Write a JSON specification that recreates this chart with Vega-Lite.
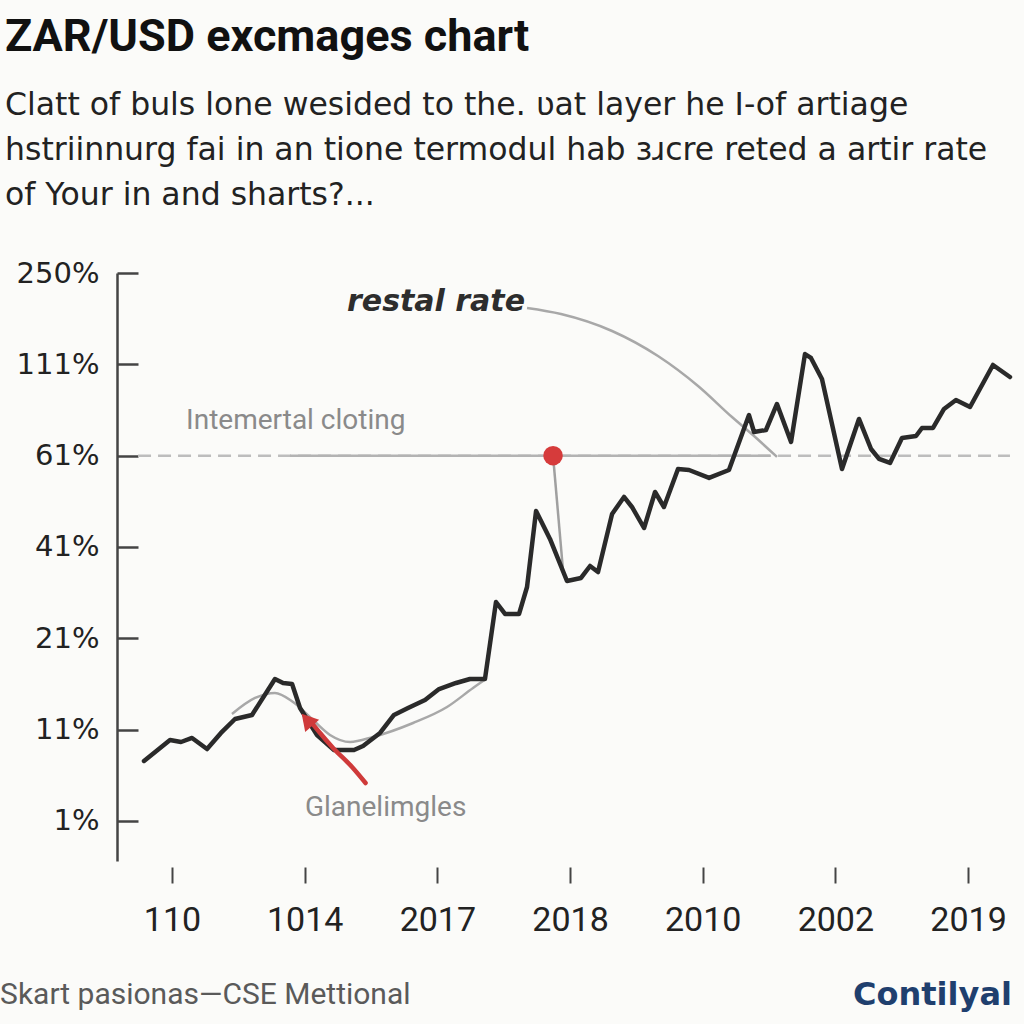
{
  "$schema": "https://vega.github.io/schema/vega-lite/v6.json",
  "width": 898,
  "height": 588,
  "autosize": {"type": "none"},
  "padding": {"left": 117, "top": 273, "right": 9, "bottom": 163},
  "background": "#fbfbf9",
  "title": {
    "text": "ZAR/USD excmages chart",
    "subtitle": ["Clatt of buls lone wesided to the. ʋat layer he I-of artiage", "hstriinnurg fai in an tione termodul hab ɜɹcre reted a artir rate", "of Your in and sharts?..."],
    "anchor": "start",
    "frame": "group",
    "dx": -112,
    "dy": -4,
    "offset": 44,
    "font": "Roboto",
    "fontSize": 45,
    "fontWeight": "bold",
    "color": "#111111",
    "subtitleFont": "DejaVu Sans",
    "subtitleFontSize": 31.5,
    "subtitleColor": "#222222",
    "subtitleLineHeight": 45,
    "subtitlePadding": 30
  },
  "config": {
    "view": {"stroke": null},
    "axis": {"grid": false, "title": null, "labelFont": "Roboto", "labelColor": "#222222"}
  },
  "datasets": {
    "main": [
      {"x": -0.211, "y": 0.657}, {"x": -0.015, "y": 0.887}, {"x": 0.068, "y": 0.865}, {"x": 0.151, "y": 0.909},
      {"x": 0.264, "y": 0.788}, {"x": 0.369, "y": 0.964}, {"x": 0.475, "y": 1.117}, {"x": 0.603, "y": 1.161},
      {"x": 0.776, "y": 1.555}, {"x": 0.837, "y": 1.511}, {"x": 0.905, "y": 1.5}, {"x": 0.965, "y": 1.237},
      {"x": 1.093, "y": 0.942}, {"x": 1.221, "y": 0.777}, {"x": 1.372, "y": 0.777}, {"x": 1.44, "y": 0.821},
      {"x": 1.568, "y": 0.964}, {"x": 1.673, "y": 1.161}, {"x": 1.779, "y": 1.237}, {"x": 1.907, "y": 1.325},
      {"x": 2.013, "y": 1.445}, {"x": 2.141, "y": 1.511}, {"x": 2.246, "y": 1.555}, {"x": 2.359, "y": 1.555},
      {"x": 2.442, "y": 2.398}, {"x": 2.51, "y": 2.267}, {"x": 2.616, "y": 2.267}, {"x": 2.676, "y": 2.562},
      {"x": 2.744, "y": 3.394}, {"x": 2.849, "y": 3.088}, {"x": 2.977, "y": 2.628}, {"x": 3.083, "y": 2.661},
      {"x": 3.151, "y": 2.792}, {"x": 3.211, "y": 2.726}, {"x": 3.317, "y": 3.361}, {"x": 3.407, "y": 3.548},
      {"x": 3.467, "y": 3.438}, {"x": 3.558, "y": 3.208}, {"x": 3.641, "y": 3.602}, {"x": 3.708, "y": 3.438},
      {"x": 3.814, "y": 3.854}, {"x": 3.897, "y": 3.843}, {"x": 4.048, "y": 3.756}, {"x": 4.198, "y": 3.843},
      {"x": 4.349, "y": 4.445}, {"x": 4.387, "y": 4.259}, {"x": 4.477, "y": 4.281}, {"x": 4.56, "y": 4.566},
      {"x": 4.666, "y": 4.15}, {"x": 4.771, "y": 5.113}, {"x": 4.816, "y": 5.07}, {"x": 4.899, "y": 4.84},
      {"x": 5.05, "y": 3.854}, {"x": 5.178, "y": 4.402}, {"x": 5.269, "y": 4.073}, {"x": 5.329, "y": 3.964},
      {"x": 5.412, "y": 3.92}, {"x": 5.502, "y": 4.194}, {"x": 5.608, "y": 4.215}, {"x": 5.653, "y": 4.303},
      {"x": 5.736, "y": 4.303}, {"x": 5.819, "y": 4.511}, {"x": 5.909, "y": 4.61}, {"x": 6.015, "y": 4.533},
      {"x": 6.188, "y": 4.993}, {"x": 6.316, "y": 4.861}
    ],
    "trend": [
      {"x": 0.452, "y": 1.172}, {"x": 0.626, "y": 1.347}, {"x": 0.776, "y": 1.402}, {"x": 0.912, "y": 1.303},
      {"x": 1.063, "y": 1.106}, {"x": 1.191, "y": 0.942}, {"x": 1.342, "y": 0.865}, {"x": 1.515, "y": 0.92},
      {"x": 1.817, "y": 1.073}, {"x": 2.073, "y": 1.248}, {"x": 2.269, "y": 1.456}, {"x": 2.367, "y": 1.555}
    ],
    "callout": [
      {"x": 2.676, "y": 5.617}, {"x": 2.932, "y": 5.551}, {"x": 3.317, "y": 5.365}, {"x": 3.663, "y": 5.091},
      {"x": 3.965, "y": 4.763}, {"x": 4.221, "y": 4.423}, {"x": 4.387, "y": 4.215}, {"x": 4.56, "y": 3.986}
    ],
    "arrow": [
      {"x": 1.459, "y": 0.416}, {"x": 1.357, "y": 0.591}, {"x": 1.214, "y": 0.799}, {"x": 1.116, "y": 0.963},
      {"x": 1.055, "y": 1.073}
    ]
  },
  "layer": [
    {
      "data": {"values": [{"x1": -0.256, "x2": 6.316, "y": 4}]},
      "mark": {"type": "rule", "color": "#bdbdbd", "strokeWidth": 2.5, "strokeDash": [13, 7]},
      "encoding": {
        "x": {"field": "x1", "type": "quantitative", "scale": {"domain": [-0.4146, 6.354], "nice": false, "zero": false},
          "axis": {"values": [0, 1, 2, 3, 4, 5, 6], "labelExpr": "['110','1014','2017','2018','2010','2002','2019'][datum.value]",
            "domain": false, "tickSize": 16, "tickWidth": 2, "tickColor": "#444444", "offset": 6, "labelPadding": 20, "labelFontSize": 34}},
        "x2": {"field": "x2"},
        "y": {"field": "y", "type": "quantitative", "scale": {"domain": [-0.438, 6], "nice": false, "zero": false},
          "axis": {"values": [0, 1, 2, 3, 4, 5, 6], "labelExpr": "['1%','11%','21%','41%','61%','111%','250%'][datum.value]",
            "domainColor": "#444444", "domainWidth": 2.5, "tickColor": "#444444", "tickWidth": 2.5, "tickSize": -21, "labelPadding": 39,
            "labelFont": "DejaVu Sans", "labelFontSize": 29}}
      }
    },
    {
      "data": {"values": [{"x1": 0.889, "x2": 4.507, "y": 4}]},
      "mark": {"type": "rule", "color": "#b3b3b3", "strokeWidth": 2.5},
      "encoding": {
        "x": {"field": "x1", "type": "quantitative"},
        "x2": {"field": "x2"},
        "y": {"field": "y", "type": "quantitative"}
      }
    },
    {
      "data": {"name": "trend"},
      "mark": {"type": "line", "color": "#a8a8a8", "strokeWidth": 2.5, "interpolate": "monotone"},
      "encoding": {"x": {"field": "x", "type": "quantitative"}, "y": {"field": "y", "type": "quantitative"}}
    },
    {
      "data": {"name": "callout"},
      "mark": {"type": "line", "color": "#a8a8a8", "strokeWidth": 2.5, "interpolate": "monotone"},
      "encoding": {"x": {"field": "x", "type": "quantitative"}, "y": {"field": "y", "type": "quantitative"}}
    },
    {
      "data": {"values": [{"x1": 2.872, "y1": 4, "x2": 2.947, "y2": 2.748}]},
      "mark": {"type": "rule", "color": "#a0a0a0", "strokeWidth": 2.5},
      "encoding": {
        "x": {"field": "x1", "type": "quantitative"}, "y": {"field": "y1", "type": "quantitative"},
        "x2": {"field": "x2"}, "y2": {"field": "y2"}
      }
    },
    {
      "data": {"name": "main"},
      "mark": {"type": "line", "color": "#2a2a2a", "strokeWidth": 4.5, "strokeJoin": "round", "strokeCap": "round"},
      "encoding": {"x": {"field": "x", "type": "quantitative"}, "y": {"field": "y", "type": "quantitative"}}
    },
    {
      "data": {"name": "arrow"},
      "mark": {"type": "line", "color": "#cf3a3a", "strokeWidth": 4.5, "interpolate": "monotone", "strokeCap": "round"},
      "encoding": {"x": {"field": "x", "type": "quantitative"}, "y": {"field": "y", "type": "quantitative"}}
    },
    {
      "data": {"values": [{"x": 1.017, "y": 1.107}]},
      "mark": {"type": "point", "shape": "triangle-up", "filled": true, "color": "#cf3a3a", "size": 340, "angle": -41, "opacity": 1},
      "encoding": {"x": {"field": "x", "type": "quantitative"}, "y": {"field": "y", "type": "quantitative"}}
    },
    {
      "data": {"values": [{"x": 2.872, "y": 4}]},
      "mark": {"type": "point", "shape": "circle", "filled": true, "color": "#d63b3b", "size": 380, "opacity": 1},
      "encoding": {"x": {"field": "x", "type": "quantitative"}, "y": {"field": "y", "type": "quantitative"}}
    },
    {
      "data": {"values": [{"x": 2.661, "y": 5.683, "label": "restal rate"}]},
      "mark": {"type": "text", "align": "right", "baseline": "middle", "font": "DejaVu Sans", "fontSize": 30, "fontWeight": "bold", "fontStyle": "italic", "color": "#2d2d2d"},
      "encoding": {"x": {"field": "x", "type": "quantitative"}, "y": {"field": "y", "type": "quantitative"}, "text": {"field": "label"}}
    },
    {
      "data": {"values": [
        {"x": 0.106, "y": 4.38, "label": "Intemertal cloting"},
        {"x": 1.002, "y": 0.142, "label": "Glanelimgles"}
      ]},
      "mark": {"type": "text", "align": "left", "baseline": "middle", "font": "Roboto", "fontSize": 28, "color": "#8a8a8a"},
      "encoding": {"x": {"field": "x", "type": "quantitative"}, "y": {"field": "y", "type": "quantitative"}, "text": {"field": "label"}}
    },
    {
      "data": {"values": [{"x": -1.296, "y": -1.905, "label": "Skart pasionas—CSE Mettional"}]},
      "mark": {"type": "text", "align": "left", "baseline": "middle", "font": "Roboto", "fontSize": 30, "color": "#5a5a5a", "clip": false},
      "encoding": {"x": {"field": "x", "type": "quantitative"}, "y": {"field": "y", "type": "quantitative"}, "text": {"field": "label"}}
    },
    {
      "data": {"values": [{"x": 6.331, "y": -1.905, "label": "Contilyal"}]},
      "mark": {"type": "text", "align": "right", "baseline": "middle", "font": "DejaVu Sans", "fontSize": 32, "fontWeight": "bold", "fontStyle": "normal", "color": "#1f3f6e", "clip": false},
      "encoding": {"x": {"field": "x", "type": "quantitative"}, "y": {"field": "y", "type": "quantitative"}, "text": {"field": "label"}}
    }
  ]
}
